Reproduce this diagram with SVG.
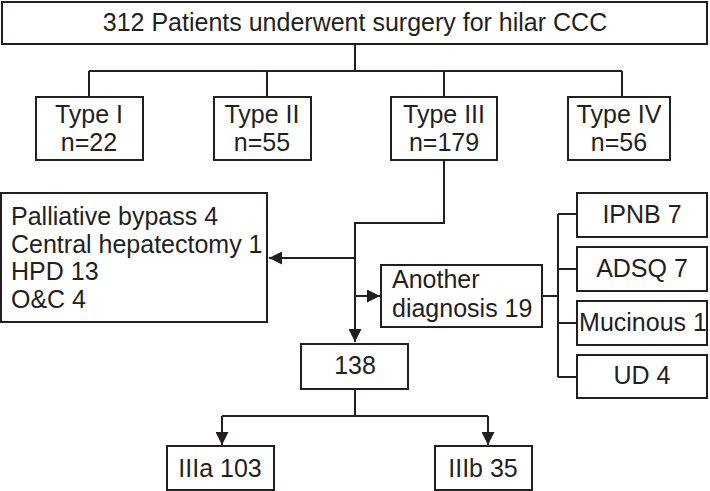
<svg xmlns="http://www.w3.org/2000/svg" width="710" height="491" viewBox="0 0 710 491">
<style>
.box{fill:#fff;stroke:#231f20;stroke-width:2}
.ln{fill:none;stroke:#231f20;stroke-width:2}
text{font-family:"Liberation Sans",Arial,sans-serif;font-size:25px;fill:#231f20}
.c{text-anchor:middle}
</style>
<defs>
<marker id="ah" viewBox="0 0 13 13" refX="13" refY="6.5" markerWidth="13" markerHeight="13" markerUnits="userSpaceOnUse" orient="auto">
<path d="M0,0 L13,6.5 L0,13 Z" fill="#231f20"/>
</marker>
</defs>
<rect width="710" height="491" fill="#fff"/>
<g id="connectors">
<path class="ln" d="M355,44 V71 M89,71 H622 M89,71 V97 M267,71 V97 M444,71 V97 M622,71 V97"/>
<path class="ln" d="M444,160 V223 H355 V342" marker-end="url(#ah)"/>
<path class="ln" d="M355,258 H269" marker-end="url(#ah)"/>
<path class="ln" d="M355,296 H380" marker-end="url(#ah)"/>
<path class="ln" d="M542,296 H558 M558,214 V377 M558,214 H577 M558,269 H577 M558,323 H577 M558,377 H577"/>
<path class="ln" d="M355,389 V416 M222,416 H488"/>
<path class="ln" d="M222,416 V445" marker-end="url(#ah)"/>
<path class="ln" d="M488,416 V445" marker-end="url(#ah)"/>
</g>
<g id="top"><rect class="box" x="2" y="2" width="705" height="42"/><text class="c" x="355" y="31">312 Patients underwent surgery for hilar CCC</text></g>
<g id="type1"><rect class="box" x="36" y="97" width="107" height="63"/><text class="c" x="89" y="123">Type I</text><text class="c" x="89" y="151">n=22</text></g>
<g id="type2"><rect class="box" x="214" y="97" width="97" height="63"/><text class="c" x="262" y="123">Type II</text><text class="c" x="262" y="151">n=55</text></g>
<g id="type3"><rect class="box" x="391" y="97" width="106" height="63"/><text class="c" x="444" y="123">Type III</text><text class="c" x="444" y="151">n=179</text></g>
<g id="type4"><rect class="box" x="568" y="97" width="102" height="63"/><text class="c" x="619" y="123">Type IV</text><text class="c" x="619" y="151">n=56</text></g>
<g id="excluded"><rect class="box" x="1" y="193" width="266" height="129"/>
<text x="11" y="225">Palliative bypass 4</text><text x="11" y="253">Central hepatectomy 1</text><text x="11" y="280">HPD 13</text><text x="11" y="308">O&amp;C 4</text></g>
<g id="another"><rect class="box" x="381" y="265" width="161" height="62"/><text x="392" y="288">Another</text><text x="392" y="317">diagnosis 19</text></g>
<g id="ipnb"><rect class="box" x="577" y="193" width="130" height="44"/><text class="c" x="642" y="223">IPNB 7</text></g>
<g id="adsq"><rect class="box" x="577" y="247" width="130" height="44"/><text class="c" x="642" y="277">ADSQ 7</text></g>
<g id="mucinous"><rect class="box" x="577" y="301" width="130" height="44"/><text class="c" x="643" y="331">Mucinous 1</text></g>
<g id="ud"><rect class="box" x="577" y="355" width="130" height="43"/><text class="c" x="642" y="384">UD 4</text></g>
<g id="n138"><rect class="box" x="301" y="344" width="107" height="45"/><text class="c" x="355" y="374">138</text></g>
<g id="iiia"><rect class="box" x="167" y="446" width="107" height="44"/><text class="c" x="220" y="477">IIIa 103</text></g>
<g id="iiib"><rect class="box" x="435" y="446" width="97" height="44"/><text class="c" x="483" y="477">IIIb 35</text></g>
</svg>
